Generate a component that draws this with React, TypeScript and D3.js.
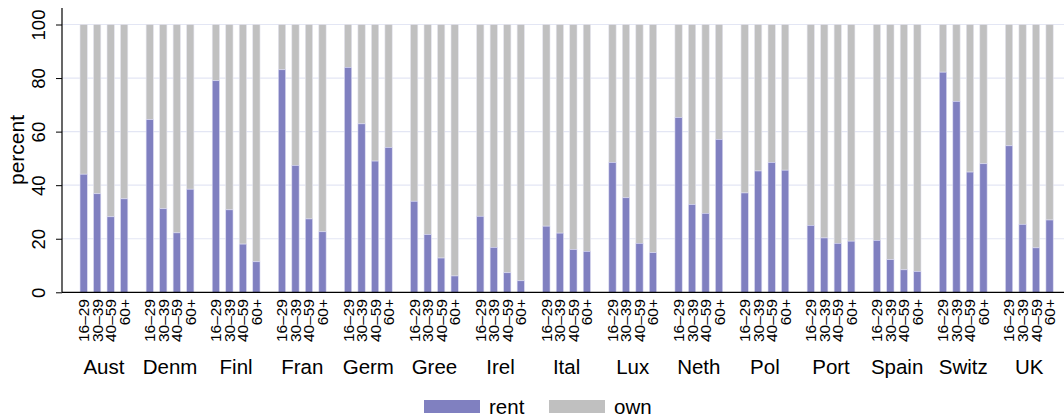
import { useEffect, useRef } from 'react'
import * as d3 from 'd3'

const countries = ['Aust', 'Denm', 'Finl', 'Fran', 'Germ', 'Gree', 'Irel', 'Ital', 'Lux', 'Neth', 'Pol', 'Port', 'Spain', 'Switz', 'UK']
const ages = ['16–29', '30–39', '40–59', '60+']

// share renting, per country, by age group (own = 100 - rent)
const rent: number[][] = [
  [44.1, 36.8, 28.2, 34.9],
  [64.5, 31.2, 22.2, 38.5],
  [79.0, 30.8, 18.0, 11.4],
  [83.1, 47.4, 27.4, 22.6],
  [84.0, 62.9, 49.0, 54.1],
  [34.0, 21.6, 12.8, 6.1],
  [28.4, 16.8, 7.3, 4.3],
  [24.7, 22.1, 16.0, 15.3],
  [48.5, 35.3, 18.3, 14.8],
  [65.3, 32.8, 29.5, 57.1],
  [37.1, 45.3, 48.5, 45.6],
  [25.0, 20.3, 18.3, 19.1],
  [19.4, 12.2, 8.4, 7.8],
  [82.2, 71.3, 44.9, 48.0],
  [54.7, 25.4, 16.6, 27.0],
]

const series = ['rent', 'own']
const colors = ['#8080c0', '#c0c0c0']
const yTicks = [0, 20, 40, 60, 80, 100]

const W = 1064, H = 419
const font = '"Liberation Sans", Arial, Helvetica, sans-serif'

export default function App() {
  const svgRef = useRef<SVGSVGElement>(null)

  useEffect(() => {
    if (!svgRef.current) return
    const svg = d3.select(svgRef.current)
    svg.selectAll('*').remove()

    const left = 62, right = 1064, top = 24.5, bottom = 292.3

    const x0 = d3.scaleBand<string>().domain(countries).range([left, right])
      .paddingInner(0.183).paddingOuter(0.171).align(0.66)
    const x1 = d3.scaleBand<string>().domain(ages).range([0, x0.bandwidth()])
      .paddingInner(0.46).paddingOuter(0.23)
    const y = d3.scaleLinear().domain([0, 100]).range([bottom, top])

    // gridlines
    svg.append('g').selectAll('line').data(yTicks.slice(1)).join('line')
      .attr('x1', left).attr('x2', right)
      .attr('y1', d => y(d)).attr('y2', d => y(d))
      .attr('stroke', '#e3e6f4').attr('stroke-width', 1.2)

    // stacked bars
    const rows = countries.flatMap((c, ci) => ages.map((a, ai) => ({ c, a, r: rent[ci][ai] })))
    const g = svg.append('g')
    g.selectAll('rect.own').data(rows).join('rect')
      .attr('x', d => x0(d.c)! + x1(d.a)!).attr('width', x1.bandwidth())
      .attr('y', y(100)).attr('height', d => y(d.r) - y(100))
      .attr('fill', colors[1]).attr('stroke', '#e4e4ee').attr('stroke-width', 0.6)
    g.selectAll('rect.rent').data(rows).join('rect')
      .attr('x', d => x0(d.c)! + x1(d.a)!).attr('width', x1.bandwidth())
      .attr('y', d => y(d.r)).attr('height', d => y(0) - y(d.r))
      .attr('fill', colors[0]).attr('stroke', '#dcdcf2').attr('stroke-width', 0.6)

    // y axis
    const ya = svg.append('g').attr('transform', `translate(${left},0)`)
      .call(d3.axisLeft(y).tickValues(yTicks).tickSize(6).tickPadding(4).tickFormat(d3.format('d')))
    ya.select('.domain').attr('d', `M0,8V${bottom}`).attr('stroke', '#000').attr('stroke-width', 1.2)
    ya.selectAll('.tick line').attr('stroke', '#000')
    ya.selectAll('.tick text')
      .attr('font-family', font).attr('font-size', 18.5).attr('fill', '#000')
      .attr('x', null).attr('dy', null)
      .attr('text-anchor', 'middle')
      .attr('transform', 'translate(-23,0) rotate(-90)')
      .attr('dy', '0.35em')

    svg.append('text')
      .attr('transform', `translate(17,150) rotate(-90)`)
      .attr('text-anchor', 'middle').attr('dy', '0.35em')
      .attr('font-family', font).attr('font-size', 21).text('percent')

    // x axis line
    svg.append('line').attr('x1', left).attr('x2', right).attr('y1', bottom).attr('y2', bottom)
      .attr('stroke', '#000').attr('stroke-width', 1.2)

    // age labels
    svg.append('g').selectAll('text').data(rows).join('text')
      .attr('transform', d => `translate(${x0(d.c)! + x1(d.a)! + x1.bandwidth() / 2},299) rotate(-90)`)
      .attr('text-anchor', 'end').attr('dy', '0.35em')
      .attr('font-family', font).attr('font-size', 15.5).text(d => d.a)

    // country labels
    svg.append('g').selectAll('text').data(countries).join('text')
      .attr('x', d => x0(d)! + x0.bandwidth() / 2).attr('y', 374)
      .attr('text-anchor', 'middle')
      .attr('font-family', font).attr('font-size', 20.5).text(d => d)

    // legend
    const lx = [424, 549]
    const lg = svg.append('g').selectAll('g').data(series).join('g')
      .attr('transform', (_, i) => `translate(${lx[i]},400)`)
    lg.append('rect').attr('width', 56).attr('height', 13).attr('fill', (_, i) => colors[i])
    lg.append('text').attr('x', 65).attr('y', 6.5).attr('dy', '0.35em')
      .attr('font-family', font).attr('font-size', 20.5).text(d => d)
  }, [])

  return (
    <svg ref={svgRef} width={W} height={H}
      style={{ position: 'absolute', left: 0, top: 0, display: 'block', background: '#fff' }} />
  )
}
